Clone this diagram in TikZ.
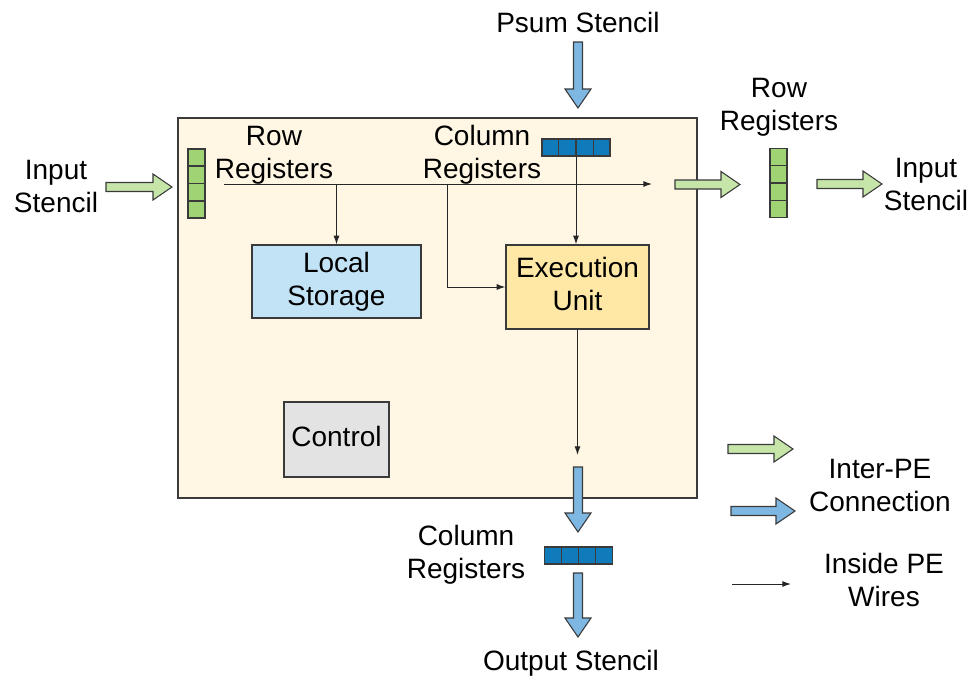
\documentclass[tikz,border=0pt]{standalone}
\usepackage{fontspec}
\setmainfont{Liberation Sans}
\usetikzlibrary{arrows.meta,calc}

\definecolor{edge}{HTML}{3A3A3A}
\definecolor{pefill}{HTML}{FFF7E4}
\definecolor{garr}{HTML}{C6E5A8}
\definecolor{greg}{HTML}{9FD373}
\definecolor{barr}{HTML}{7FB7E3}
\definecolor{breg}{HTML}{0F7BBB}
\definecolor{lsfill}{HTML}{C2E3F6}
\definecolor{exfill}{HTML}{FFE8A6}
\definecolor{ctfill}{HTML}{E3E3E3}

% horizontal block arrow: x1, x2, y, style
\newcommand{\harr}[4]{%
  \filldraw[#4] (#1,#3-4.5) -- (#2-19,#3-4.5) -- (#2-19,#3-13) -- (#2,#3)
    -- (#2-19,#3+13) -- (#2-19,#3+4.5) -- (#1,#3+4.5) -- cycle;}
% vertical block arrow (pointing down): x, y1, y2, style
\newcommand{\varr}[4]{%
  \filldraw[#4] (#1-4.5,#2) -- (#1-4.5,#3-19) -- (#1-13,#3-19) -- (#1,#3)
    -- (#1+13,#3-19) -- (#1+4.5,#3-19) -- (#1+4.5,#2) -- cycle;}

\tikzset{
  lbl/.style={font=\fontsize{21}{24.75}\selectfont, align=center, inner sep=0pt},
  blk/.style={draw=edge, line width=1pt, inner sep=0pt,
    font=\fontsize{21}{24.75}\selectfont, align=center},
  vstack/.style={draw=edge, line width=0.9pt, fill=greg,
    minimum width=12.75pt, minimum height=51.75pt, inner sep=0pt},
  hstack/.style={draw=edge, line width=0.9pt, fill=breg,
    minimum width=51pt, minimum height=12.75pt, inner sep=0pt},
  garrow/.style={fill=garr, draw=edge, line width=0.8pt},
  barrow/.style={fill=barr, draw=edge, line width=0.8pt},
  wire/.style={draw=black!85, line width=0.75pt,
    -{Latex[length=6.5pt,width=4.5pt]}},
}

\begin{document}
\begin{tikzpicture}[x=0.75pt,y=-0.75pt]
\useasboundingbox (0,0) rectangle (976,683);

% processing element outline
\node[blk, fill=pefill, minimum width=389.25pt, minimum height=285pt] (pe) at (437.5,308) {};

% inner blocks
\node[blk, fill=lsfill, minimum width=126.75pt, minimum height=54.75pt] (ls) at (336.5,281.5) {};
\node[blk, fill=exfill, minimum width=107.25pt, minimum height=63pt] (exec) at (577.5,287) {};
\node[blk, fill=ctfill, minimum width=78.75pt, minimum height=56.25pt] (ctrl) at (336.5,439.5) {};
\node[lbl] (tls) at (336.5,282) {Local\\Storage};
\node[lbl] (tex) at (577.5,284) {Execution\\Unit};
\node[lbl] (tctrl) at (336.5,436.5) {Control};

% register stacks
\node[vstack] (rl) at (196.5,183.5) {};
\node[vstack] (rr) at (778.5,183) {};
\node[hstack] (ct) at (576,147.5) {};
\node[hstack] (cb) at (578.5,555.5) {};
\foreach \s in {rl,rr}{
  \foreach \k in {1,2,3}
    \draw[edge, line width=0.9pt] ($(\s.north west)!\k/4!(\s.south west)$) -- ($(\s.north east)!\k/4!(\s.south east)$);
}
\foreach \s in {ct,cb}{
  \foreach \k in {1,2,3}
    \draw[edge, line width=0.9pt] ($(\s.north west)!\k/4!(\s.north east)$) -- ($(\s.south west)!\k/4!(\s.south east)$);
}

% inter-PE connections
\harr{106}{172}{187}{garrow}
\harr{675}{740}{184.5}{garrow}
\harr{817}{882}{184}{garrow}
\varr{578}{42}{108}{barrow}
\varr{578}{467}{532}{barrow}
\varr{578}{573}{637}{barrow}

% wires inside the PE
\coordinate (w0) at (224,184);
\coordinate (w1) at (652,184);
\coordinate (br) at (447,184);
\coordinate (eo) at (578,455);
\draw[wire] (w0) -- (w1);
\draw[wire] (ls.north |- w0) -- (ls.north);
\draw[wire] (br) -- (br |- exec.west) -- (exec.west);
\draw[wire] (ct.south) -- (ct.south |- exec.north);
\draw[wire] (exec.south) -- (exec.south |- eo);

% labels
\node[lbl] (tin) at (56,186.5) {Input\\Stencil};
\node[lbl] (trl) at (274,155) {Row\\Registers};
\node[lbl] (tct) at (482,155) {Column\\Registers};
\node[lbl] (tps) at (578,22) {Psum Stencil};
\node[lbl] (trr) at (779,107) {Row\\Registers};
\node[lbl] (tout) at (926,184.5) {Input\\Stencil};
\node[lbl] (tcb) at (466,555) {Column\\Registers};
\node[lbl] (tos) at (571,663) {Output Stencil};

% legend
\harr{728}{793}{449}{garrow}
\harr{731}{795}{511}{barrow}
\coordinate (lw0) at (732,584);
\coordinate (lw1) at (791,584);
\draw[wire] (lw0) -- (lw1);
\node[lbl] (tip) at (880,485.5) {Inter-PE\\Connection};
\node[lbl] (tiw) at (884,579.5) {Inside PE\\Wires};
\end{tikzpicture}
\end{document}
